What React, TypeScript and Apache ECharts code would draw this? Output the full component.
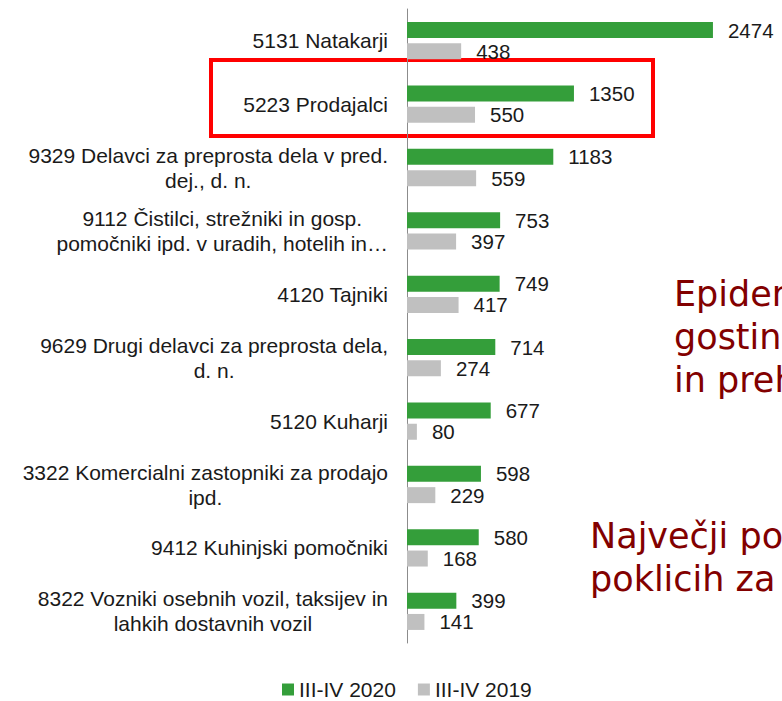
import React, { useEffect, useRef } from "react";
import * as echarts from "echarts";

const categories = [
  "5131 Natakarji",
  "5223 Prodajalci",
  "9329 Delavci za preprosta dela v pred.\ndej., d. n.",
  "9112 Čistilci, strežniki in gosp.\npomočniki ipd. v uradih, hotelih in…",
  "4120 Tajniki",
  "9629 Drugi delavci za preprosta dela,\nd. n.",
  "5120 Kuharji",
  "3322 Komercialni zastopniki za prodajo\nipd.",
  "9412 Kuhinjski pomočniki",
  "8322 Vozniki osebnih vozil, taksijev in\nlahkih dostavnih vozil",
];
const values2020 = [2474, 1350, 1183, 753, 749, 714, 677, 598, 580, 399];
const values2019 = [438, 550, 559, 397, 417, 274, 80, 229, 168, 141];
const seriesNames = ["III-IV 2020", "III-IV 2019"];
const noteLines1 = ["Epidemija", "gostinstvo", "in prehrana"];
const noteLines2 = ["Največji porast", "poklicih za"];

const FONT = "'Liberation Sans', Arial, sans-serif";
const NOTE_FONT = "'DejaVu Sans', Verdana, sans-serif";
const TEXT = "#1a1a1a";
const DARKRED = "#820000";

export default function App() {
  const ref = useRef<HTMLDivElement>(null);
  useEffect(() => {
    if (!ref.current) return;
    const chart = echarts.init(ref.current, null, { renderer: "svg" });
    const noteText = (lines: string[], x: number, y0: number, step: number) =>
      lines.map((t, i) => ({
        type: "text",
        x,
        y: y0 + i * step,
        style: {
          text: t,
          fill: DARKRED,
          font: `35px ${NOTE_FONT}`,
          textAlign: "left",
          textVerticalAlign: "middle",
        },
      }));
    chart.setOption({
      animation: false,
      backgroundColor: "#ffffff",
      grid: { left: 407, right: 4, top: 9, bottom: 58 },
      xAxis: {
        type: "value",
        min: 0,
        max: 3000,
        show: false,
      },
      yAxis: {
        type: "category",
        data: categories,
        inverse: true,
        axisLine: { show: true, lineStyle: { color: "#8c8c8c", width: 1 } },
        axisTick: { show: false },
        splitLine: { show: false },
        axisLabel: {
          margin: 19,
          color: TEXT,
          fontFamily: FONT,
          fontSize: 21,
          lineHeight: 25,
          formatter: (v: string) =>
            v
              .split("\n")
              .map((l) => `{c|${l}}`)
              .join("\n"),
          rich: {
            c: {
              align: "center",
              color: TEXT,
              fontFamily: FONT,
              fontSize: 21,
              lineHeight: 25,
            },
          },
        },
      },
      legend: {
        data: seriesNames,
        left: 282,
        top: 679,
        padding: 0,
        icon: "rect",
        itemWidth: 12,
        itemHeight: 12,
        itemGap: 22,
        textStyle: { color: TEXT, fontFamily: FONT, fontSize: 21 },
      },
      series: [
        {
          name: seriesNames[0],
          type: "bar",
          data: values2020,
          barWidth: 16,
          barGap: "33%",
          itemStyle: { color: "#349E3A" },
          label: {
            show: true,
            position: "right",
            distance: 15,
            color: TEXT,
            fontFamily: FONT,
            fontSize: 20.5,
          },
        },
        {
          name: seriesNames[1],
          type: "bar",
          data: values2019,
          barWidth: 16,
          itemStyle: { color: "#C0C0C0" },
          label: {
            show: true,
            position: "right",
            distance: 15,
            color: TEXT,
            fontFamily: FONT,
            fontSize: 20.5,
          },
        },
      ],
      graphic: [
        {
          type: "rect",
          shape: { x: 211, y: 60, width: 442, height: 76 },
          style: { fill: "none", stroke: "#ff0000", lineWidth: 4 },
          silent: true,
        },
        ...noteText(noteLines1, 674, 294, 43),
        ...noteText(noteLines2, 590, 536, 43),
      ],
    });
    return () => chart.dispose();
  }, []);
  return (
    <div
      ref={ref}
      style={{ position: "fixed", left: 0, top: 0, width: 782, height: 701 }}
    />
  );
}
